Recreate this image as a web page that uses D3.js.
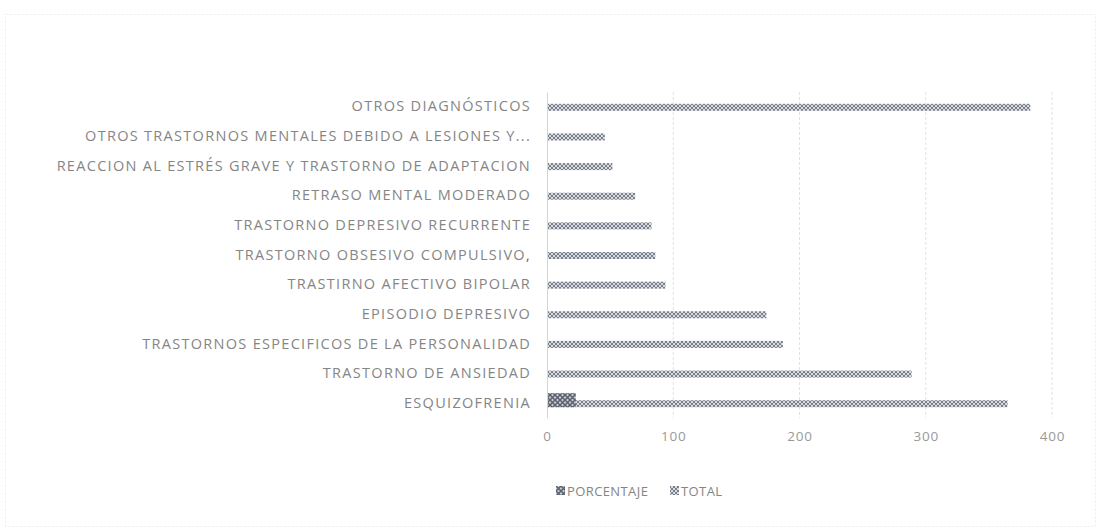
<!DOCTYPE html>
<html>
<head>
<meta charset="utf-8">
<script src="https://cdn.jsdelivr.net/npm/d3@7"></script>
<style>
  body { margin: 0; background: #fff; }
  text { font-family: "Open Sans", sans-serif; }
</style>
</head>
<body>
<div id="chart"></div>
<script>
// categorias de arriba hacia abajo
var categorias = [
  'OTROS DIAGNÓSTICOS',
  'OTROS TRASTORNOS MENTALES DEBIDO A LESIONES Y...',
  'REACCION AL ESTRÉS GRAVE Y TRASTORNO DE ADAPTACION',
  'RETRASO MENTAL MODERADO',
  'TRASTORNO DEPRESIVO RECURRENTE',
  'TRASTORNO OBSESIVO COMPULSIVO',
  'TRASTIRNO AFECTIVO BIPOLAR',
  'EPISODIO DEPRESIVO',
  'TRASTORNOS ESPECIFICOS DE LA PERSONALIDAD',
  'TRASTORNO DE ANSIEDAD',
  'ESQUIZOFRENIA'
];
var total = [382, 45, 51, 69, 82, 85, 93, 173, 186, 288, 364];
var porcentaje = [0, 0, 0, 0, 0, 0, 0, 0, 0, 0, 22];
var ticksX = [0, 100, 200, 300, 400];
var series = ['PORCENTAJE', 'TOTAL'];

var width = 1101, height = 531;

var svg = d3.select('#chart').append('svg')
  .attr('width', width).attr('height', height);

// patrones de relleno tipo Excel
var defs = svg.append('defs');
var pTotal = defs.append('pattern').attr('id', 'pat-total')
  .attr('width', 4).attr('height', 4).attr('patternUnits', 'userSpaceOnUse');
pTotal.append('rect').attr('width', 4).attr('height', 4).attr('fill', '#d8dbe0');
pTotal.append('path').attr('d', 'M0,4 L4,0 M0,0 L4,4').attr('stroke', '#7a808b').attr('stroke-width', 1);

var pPct = defs.append('pattern').attr('id', 'pat-pct')
  .attr('width', 5).attr('height', 5).attr('patternUnits', 'userSpaceOnUse');
pPct.append('rect').attr('width', 5).attr('height', 5).attr('fill', '#c8ccd2');
pPct.append('path').attr('d', 'M0,5 L5,0 M0,0 L5,5').attr('stroke', '#5a616c').attr('stroke-width', 1.5);

var color = d3.scaleOrdinal().domain(series).range(['url(#pat-pct)', 'url(#pat-total)']);

// marco del grafico
svg.append('rect')
  .attr('x', 5.5).attr('y', 14.5).attr('width', 1090).attr('height', 512)
  .attr('fill', 'none').attr('stroke', '#ececec').attr('stroke-dasharray', '2,2');

var x = d3.scaleLinear().domain([0, 400]).range([547, 1052]);
var y = d3.scaleBand().domain(categorias).range([92, 418]);

// lineas de cuadricula
svg.append('g').selectAll('line')
  .data(ticksX.slice(1))
  .enter().append('line')
  .attr('x1', function (d) { return x(d); })
  .attr('x2', function (d) { return x(d); })
  .attr('y1', 92).attr('y2', 418)
  .attr('stroke', '#e2e2e2')
  .attr('stroke-dasharray', '3,2');

// eje x
var gx = svg.append('g').attr('transform', 'translate(0,425)')
  .call(d3.axisBottom(x).tickValues(ticksX).tickSize(0).tickPadding(6));
gx.select('.domain').remove();
gx.selectAll('text').attr('fill', '#999').style('font-size', '13.5px').style('letter-spacing', '0.8px');

// eje y
var gy = svg.append('g').attr('transform', 'translate(547,0)')
  .call(d3.axisLeft(y).tickSize(0).tickPadding(16).tickSizeOuter(0));
gy.select('.domain').attr('stroke', '#d6d6d6');
gy.selectAll('text').attr('fill', '#858585').style('font-size', '14.5px').style('letter-spacing', '1.3px');
gy.selectAll('.tick text').filter(function (d) { return d === 'TRASTORNO OBSESIVO COMPULSIVO'; })
  .append('tspan').attr('fill', '#d0304a').text(',');

// barras TOTAL
svg.append('g').selectAll('rect')
  .data(categorias)
  .enter().append('rect')
  .attr('x', x(0) + 1)
  .attr('y', function (d) { return y(d) + y.bandwidth() / 2 - 3; })
  .attr('width', function (d, i) { return x(total[i]) - x(0); })
  .attr('height', 7)
  .attr('fill', color('TOTAL'));

// barras PORCENTAJE
svg.append('g').selectAll('rect')
  .data(categorias)
  .enter().append('rect')
  .attr('x', x(0) + 1)
  .attr('y', function (d) { return y(d) + y.bandwidth() / 2 - 10; })
  .attr('width', function (d, i) { return x(porcentaje[i]) - x(0); })
  .attr('height', 14)
  .attr('fill', color('PORCENTAJE'));

// leyenda
var leg = svg.append('g').attr('transform', 'translate(556,491)');
var legX = [0, 114];
series.forEach(function (s, i) {
  var g = leg.append('g').attr('transform', 'translate(' + legX[i] + ',0)');
  g.append('rect').attr('x', 0).attr('y', -5).attr('width', 9).attr('height', 9).attr('fill', color(s));
  g.append('text').attr('x', 11).attr('y', 0).attr('dy', '0.35em')
    .attr('fill', '#858585').style('font-size', '13px').style('letter-spacing', '0.4px').text(s);
});
</script>
</body>
</html>
